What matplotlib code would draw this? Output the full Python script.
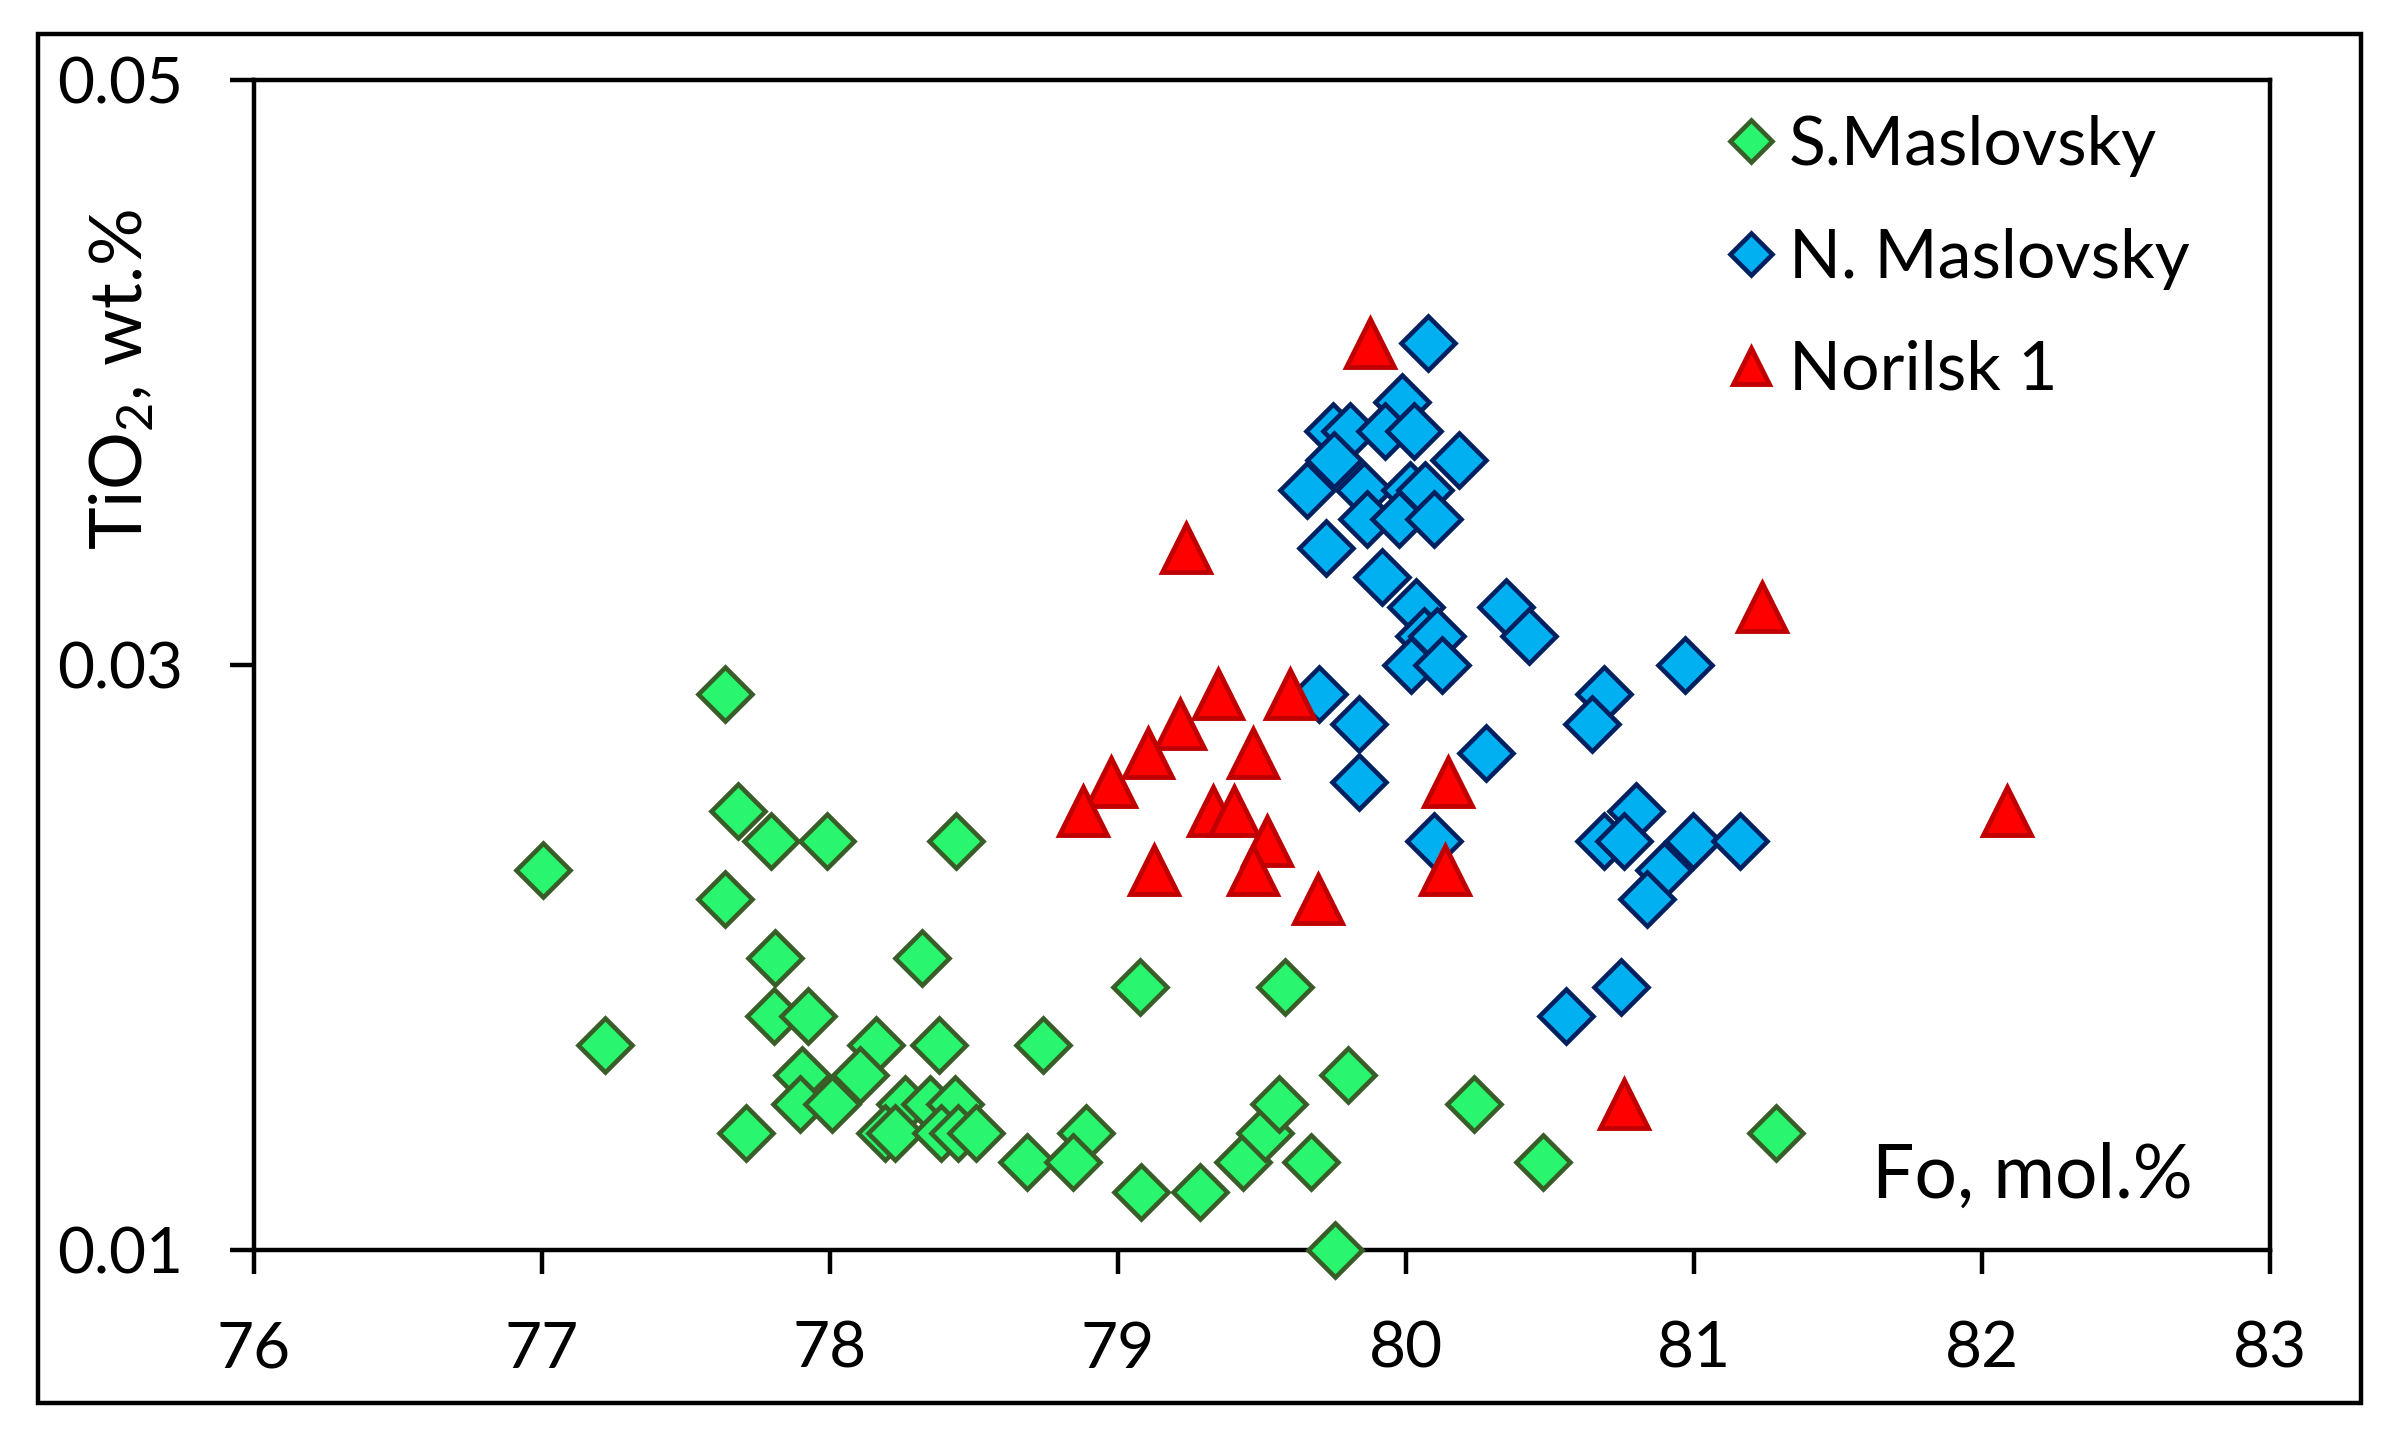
import matplotlib.pyplot as plt
from matplotlib.patches import Rectangle

plt.rcParams["font.family"] = ["Lato", "DejaVu Sans"]
plt.rcParams["mathtext.fontset"] = "custom"
plt.rcParams["mathtext.rm"] = "Lato"
plt.rcParams["mathtext.it"] = "Lato:italic"

# S. Maslovsky (Fo mol.%, TiO2 wt.%)
s_fo = [77.636, 77.004, 77.679, 77.795, 77.988, 78.438, 77.637, 77.808, 78.319,
        77.807, 77.925, 77.219, 78.158, 78.377, 78.740, 77.904, 78.105, 77.897,
        78.007, 78.260, 78.347, 78.434, 77.708, 78.192, 78.226, 78.384, 78.445,
        78.507, 78.685, 78.888, 78.842, 79.078, 79.580, 79.080, 79.283, 79.433,
        79.510, 79.559, 79.669, 79.800, 79.755, 80.236, 80.475, 81.285]
s_ti = [0.029, 0.023, 0.025, 0.024, 0.024, 0.024, 0.022, 0.020, 0.020,
        0.018, 0.018, 0.017, 0.017, 0.017, 0.017, 0.016, 0.016, 0.015,
        0.015, 0.015, 0.015, 0.015, 0.014, 0.014, 0.014, 0.014, 0.014,
        0.014, 0.013, 0.014, 0.013, 0.019, 0.019, 0.012, 0.012, 0.013,
        0.014, 0.015, 0.013, 0.016, 0.010, 0.015, 0.013, 0.014]

# N. Maslovsky
n_fo = [80.076, 79.986, 79.747, 79.807, 79.926, 80.026, 80.185, 79.749, 79.657,
        79.854, 80.014, 80.067, 79.865, 79.974, 80.096, 79.723, 79.917, 80.034,
        80.064, 80.107, 80.018, 80.125, 80.347, 80.426, 80.968, 80.686, 80.647,
        79.697, 79.836, 79.836, 80.278, 80.097, 80.797, 80.687, 80.757, 80.996,
        81.160, 80.894, 80.838, 80.748, 80.554]
n_ti = [0.041, 0.039, 0.038, 0.038, 0.038, 0.038, 0.037, 0.037, 0.036,
        0.036, 0.036, 0.036, 0.035, 0.035, 0.035, 0.034, 0.033, 0.032,
        0.031, 0.031, 0.030, 0.030, 0.032, 0.031, 0.030, 0.029, 0.028,
        0.029, 0.028, 0.026, 0.027, 0.024, 0.025, 0.024, 0.024, 0.024,
        0.024, 0.023, 0.022, 0.019, 0.018]

# Norilsk 1
r_fo = [79.876, 79.237, 81.236, 79.346, 79.598, 79.214, 79.105, 79.467, 78.975,
        80.145, 78.878, 79.329, 79.403, 79.518, 79.126, 79.467, 80.136, 79.696,
        80.757, 82.085]
r_ti = [0.041, 0.034, 0.032, 0.029, 0.029, 0.028, 0.027, 0.027, 0.026,
        0.026, 0.025, 0.025, 0.025, 0.024, 0.023, 0.023, 0.023, 0.022,
        0.015, 0.025]

x_ticks = [76, 77, 78, 79, 80, 81, 82, 83]
y_ticks = [0.01, 0.03, 0.05]
y_labels = ["0.01", "0.03", "0.05"]

fig = plt.figure(figsize=(23.83, 14.36), dpi=100)
ax = fig.add_axes([0.1066, 0.1295, 0.8460, 0.8148])

ax.plot(s_fo, s_ti, linestyle="none", marker="D", markersize=27,
        markerfacecolor="#29F56F", markeredgecolor="#385D26", markeredgewidth=3.3,
        label="S.Maslovsky", clip_on=False, zorder=3)
ax.plot(n_fo, n_ti, linestyle="none", marker="D", markersize=27,
        markerfacecolor="#00B0F0", markeredgecolor="#002060", markeredgewidth=3.3,
        label="N. Maslovsky", clip_on=False, zorder=3)
ax.plot(r_fo, r_ti, linestyle="none", marker="^", markersize=34,
        markerfacecolor="#FF0000", markeredgecolor="#C00000", markeredgewidth=3.5,
        label="Norilsk 1", clip_on=False, zorder=3)

ax.set_xlim(76, 83)
ax.set_ylim(0.01, 0.05)
ax.set_xticks(x_ticks)
ax.set_yticks(y_ticks)
ax.set_yticklabels(y_labels)
ax.tick_params(direction="out", length=17, width=3.2, labelsize=46, pad=34)
for sp in ax.spines.values():
    sp.set_linewidth(3.2)

ax.legend(loc="upper left", bbox_to_anchor=(0.714, 0.999), frameon=False,
          fontsize=49, numpoints=1, markerscale=0.78, borderpad=0,
          handlelength=0.7, handletextpad=0.2, labelspacing=0.74)

ax.text(0.8026, 0.0444, "Fo, mol.%", transform=ax.transAxes, fontsize=54,
        ha="left", va="baseline")
fig.text(0.0512, 0.7354, "TiO$_2$, wt.%", rotation=90, fontsize=52,
         ha="center", va="center")

fig.patches.append(Rectangle((0.0159, 0.023), 0.9749, 0.9533, transform=fig.transFigure,
                             fill=False, linewidth=3.2, edgecolor="black"))

fig.savefig("out.png", dpi=100)
